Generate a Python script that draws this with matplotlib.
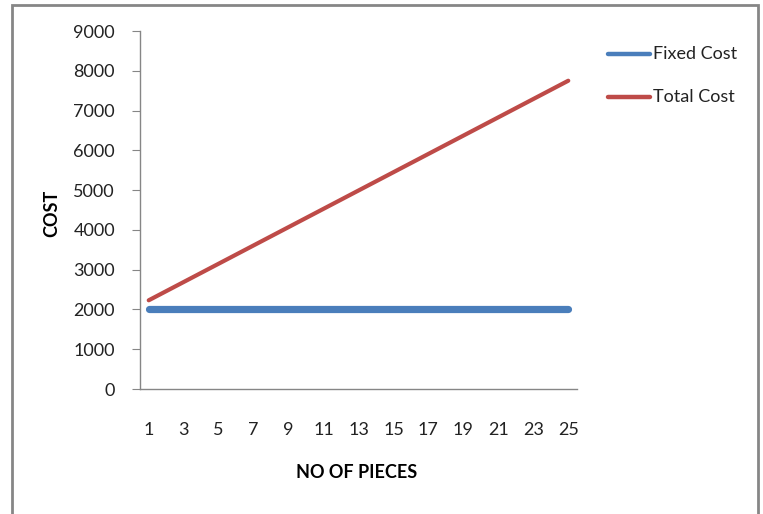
import matplotlib
matplotlib.use("Agg")
import matplotlib.pyplot as plt
import matplotlib.patches as mpatches

plt.rcParams["font.family"] = ["Lato", "DejaVu Sans"]

# Cost data per number of pieces
pieces = list(range(1, 26))
fixed_cost = [2000] * 25
total_cost = [2230, 2460, 2690, 2920, 3150, 3380, 3610, 3840, 4070, 4300,
              4530, 4760, 4990, 5220, 5450, 5680, 5910, 6140, 6370, 6600,
              6830, 7060, 7290, 7520, 7750]

W, H = 763, 514
fig = plt.figure(figsize=(W / 100, H / 100), dpi=100)
ax = fig.add_axes([140 / W, 1 - 389 / H, (577 - 140) / W, (389 - 31) / H])

BLUE = "#4A7EBB"
RED = "#BE4B48"
GREY = "#868686"

ax.plot(pieces, fixed_cost, color=BLUE, lw=5.2, solid_capstyle="round", label="Fixed Cost")
ax.plot(pieces, total_cost, color=RED, lw=3.0, solid_capstyle="round", label="Total Cost")

ax.set_xlim(0.5, 25.5)
ax.set_ylim(0, 9000)
ax.set_yticks(range(0, 9001, 1000))
ax.set_xticks(pieces[::2])

for side in ("top", "right"):
    ax.spines[side].set_visible(False)
for side in ("left", "bottom"):
    ax.spines[side].set_color(GREY)
    ax.spines[side].set_linewidth(1.0)

ax.tick_params(axis="y", direction="out", length=6, color=GREY, labelsize=13,
               labelcolor="#222222", pad=12)
ax.tick_params(axis="x", length=0, labelsize=13, labelcolor="#222222", pad=24)

fig.text(52 / W, 1 - 213 / H, "COST", rotation=90, ha="center", va="center",
         fontsize=13, fontweight="bold")
fig.text(357 / W, 1 - 473 / H, "NO OF PIECES", ha="center", va="center",
         fontsize=13, fontweight="bold")

# legend drawn at the right of the plot area
for i, (label, color, lw) in enumerate([("Fixed Cost", BLUE, 3.2), ("Total Cost", RED, 3.2)]):
    y = 1 - (54 + 43 * i) / H
    fig.add_artist(plt.Line2D([608 / W, 650 / W], [y, y], color=color, lw=lw,
                              solid_capstyle="round"))
    fig.text(653 / W, y, label, ha="left", va="center", fontsize=13, color="#222222")

# chart border
fig.add_artist(mpatches.Rectangle((12 / W, -0.05), (758 - 12) / W, 1.05 - 5 / H,
                                  transform=fig.transFigure, fill=False,
                                  edgecolor=GREY, lw=2, clip_on=False))

fig.savefig("out.png", dpi=100)
